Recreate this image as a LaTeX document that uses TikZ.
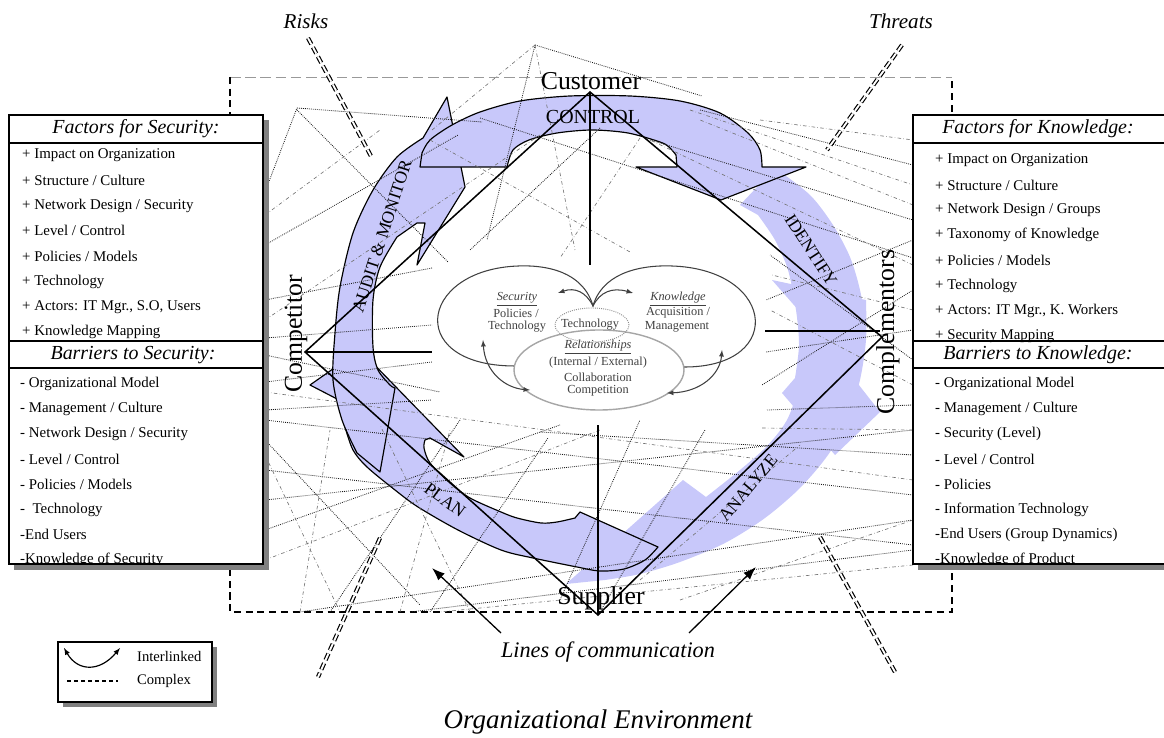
\documentclass[tikz,border=0pt]{standalone}
\usepackage{fontspec}
\setmainfont{Liberation Serif}
\usetikzlibrary{arrows,arrows.meta,positioning}
\tikzset{>=latex}
\definecolor{ringblue}{RGB}{200,200,250}
\definecolor{shadowgray}{RGB}{128,128,128}

\newcommand{\itemfont}{\fontsize{12.7}{14}\selectfont}
\newcommand{\headfont}{\fontsize{17}{19}\selectfont\itshape}
\newcommand{\rolefont}{\fontsize{22}{24}\selectfont}
\newcommand{\ringfont}{\fontsize{15}{16}\selectfont}
\newcommand{\vennfont}{\fontsize{10.5}{12}\selectfont}

\begin{document}
\begin{tikzpicture}[x=0.03cm,y=-0.03cm,
  ring/.style={fill=ringblue, draw=black, line width=1pt, line join=round},
  ringlight/.style={fill=ringblue},
  web/.style={densely dotted, line width=0.7pt, black!90},
  webgray/.style={dash dot, line width=0.55pt, black!55},
  complex/.style={double=white, double distance=1.6pt, line width=1pt, dash pattern=on 6pt off 3pt},
  listitem/.style={anchor=west, inner sep=0pt, font=\itemfont},
  listhead/.style={inner sep=0pt, font=\headfont},
  role/.style={inner sep=0pt, font=\rolefont},
  stage/.style={inner sep=0pt, font=\ringfont},
  venn/.style={inner sep=0pt, font=\vennfont, text=black!75},
  commarrow/.style={-{Latex[length=11pt,width=8pt]}, line width=1.1pt}]
\useasboundingbox (0,0) rectangle (1164,738);

% organizational boundary
\draw[black!40, dash pattern=on 9pt off 4pt, line width=0.6pt] (230,77) -- (952,77);
\draw[dash pattern=on 6pt off 4pt, line width=1pt] (230,77) -- (230,612) -- (952,612) -- (952,77);

% process cycle
\fill[ringlight] (740,205) -- plot[smooth] coordinates {(775,168) (810,195) (833,225) (850,257) (860,290) (865,323) (862,355) (855,380)}
  -- (880,412) -- (835,455) -- (782,393)
  -- plot[smooth] coordinates {(795,378) (799,345) (796,310) (788,270) (775,240) (758,215)} -- cycle;
\fill[ringlight] (772,280) -- plot[smooth] coordinates {(866,300) (866,340) (860,380) (848,420) (828,455) (800,488) (765,518) (725,543) (680,562) (640,574) (605,580)}
  -- (566,584) -- (683,480)
  -- plot[smooth] coordinates {(706,497) (740,470) (768,445) (788,418) (800,380) (803,340) (800,312)} -- cycle;
\filldraw[ring] (339,400) -- plot[smooth] coordinates {(345,427) (353,450) (367,467) (395,490) (418,507) (458,530) (501,550) (533,558) (577,567) (600,571) (624,569) (645,560) (658,547)}
  -- (580,512)
  -- plot[smooth] coordinates {(575,518) (557,522) (541,523) (517,518) (501,512) (470,498) (450,483) (430,463) (424,448) (425,440)}
  -- (430,438) -- (464,457) -- (360,350) -- (310,385) -- cycle;
\filldraw[ring] (380,472) -- plot[smooth] coordinates {(357,453) (342,420) (333,380) (335,333) (340,287) (353,233) (373,190) (397,157) (423,138)}
  -- (447,97) -- (465,187) -- (417,265) -- (425,223) -- (417,223)
  -- plot[smooth] coordinates {(397,237) (380,267) (373,300) (373,347) (378,370) (390,385) (395,388)} -- cycle;
\filldraw[ring] (420,167) -- plot[smooth] coordinates {(422,153) (430,140) (452,125) (480,112) (520,101) (570,96) (630,96) (680,101) (720,113) (748,133) (760,150) (762,167)}
  -- (806,167) -- (721,200) -- (636,167) -- (677,167)
  -- plot[smooth] coordinates {(676,155) (669,147) (660,142) (628,133) (592,130) (557,133) (529,140) (513,150) (507,167)} -- cycle;

% lines of communication
\foreach \xa/\ya/\xb/\yb in {265/192/297/108, 297/108/482/122, 297/110/448/262, 265/245/458/135,
    265/300/432/268, 265/338/432/325, 265/355/440/392, 265/382/432/362, 265/410/432/400,
    265/440/420/605, 265/470/913/545, 265/500/913/430, 265/530/560/425, 535/45/487/240,
    535/45/702/96, 480/118/913/258, 600/128/470/250, 700/110/913/165, 650/140/913/220,
    913/240/766/300, 913/290/762/385, 913/330/766/352, 913/360/770/255, 913/405/767/410,
    913/455/540/432, 913/495/265/420, 913/520/300/612, 913/550/410/612, 330/612/460/420,
    430/612/548/438, 600/612/705/430, 560/600/640/420}
  \draw[web] (\xa,\ya) -- (\xb,\yb);
\foreach \xa/\ya/\xb/\yb in {265/215/380/130, 265/320/540/135, 535/45/575/250, 535/45/432/130,
    430/140/630/252, 640/138/560/258, 690/110/913/185, 760/120/913/140, 913/205/700/120,
    913/265/650/140, 913/310/772/275, 913/385/770/310, 913/430/760/428, 913/480/265/392,
    913/565/440/612, 265/455/340/612, 265/560/600/430, 300/612/330/430, 400/612/450/430,
    470/612/380/425, 640/580/800/445, 680/600/913/520}
  \draw[webgray] (\xa,\ya) -- (\xb,\yb);

% diamond
\coordinate (cust) at (590,92);
\coordinate (comp) at (305,352);
\coordinate (supp) at (598,615);
\coordinate (cmpl) at (882,337);
\draw[line width=1.3pt, line join=miter] (cust) -- (cmpl) -- (supp) -- (comp) -- cycle;
\draw[line width=1pt] (cust) -- (590,265);
\draw[line width=1pt] (comp) -- (432,352);
\draw[line width=1pt] (765,331) -- (880,331);
\draw[line width=1pt] (supp) -- (598,425);

% venn
\draw[black!75, line width=0.9pt, ->] (515,366) .. controls (400,366) and (420,262) .. (530,266)
  .. controls (572,268) and (588,288) .. (593,306) .. controls (600,292) and (612,287) .. (633,293);
\draw[black!75, line width=0.9pt, ->] (683,367) .. controls (790,368) and (775,262) .. (660,266)
  .. controls (615,268) and (598,288) .. (593,306) .. controls (586,292) and (575,287) .. (558,293);
\draw[black!35, line width=1.2pt, fill=white] (599,370) ellipse [x radius=2.55cm, y radius=1.2cm];
\draw[black!45, densely dotted, line width=0.8pt] (592,325) ellipse [x radius=1.11cm, y radius=0.51cm];
\draw[<->, black!75, line width=0.9pt] (483,340) .. controls (485,372) and (505,388) .. (530,390);
\draw[<->, black!75, line width=0.9pt] (667,393) .. controls (700,392) and (720,375) .. (722,350);
\node[venn] (vsec) at (517,299) {\underline{\textit{Security}}};
\node[venn] (vsecb) at (516,313) {Policies /};
\node[venn] (vsecc) at (517,327) {Technology};
\node[venn] (vtech) at (590,325) {Technology};
\node[venn] (vknow) at (678,299) {\underline{\textit{Knowledge}}};
\node[venn] (vknowb) at (678,313) {Acquisition /};
\node[venn] (vknowc) at (677,327) {Management};
\node[venn] (vrel) at (598,347) {\underline{\textit{Relationships}}};
\node[venn] (vrelb) at (598,363) {(Internal / External)};
\node[venn] (vrelc) at (598,377) {Collaboration};
\node[venn] (vreld) at (598,391) {Competition};

% left lists
\fill[shadowgray] (14,120) rectangle (269,570);
\fill[white] (9,115) rectangle (263,564);
\begin{scope}
  \clip (9,115) rectangle (263,564);
  \node[listhead] (fsec) at (136,129) {Factors for Security:};
  \foreach \t [count=\i from 0] in {{+ Impact on Organization}, {+ Structure / Culture},
      {+ Network Design / Security}, {+ Level / Control}, {+ Policies / Models}, {+ Technology},
      {+ Actors: IT Mgr., S.O, Users}, {+ Knowledge Mapping}}
    \node[listitem] (fs\i) at ({22},{155+25.3*\i}) {\t};
  \node[listhead] (bsec) at (133,355) {Barriers to Security:};
  \foreach \t [count=\i from 0] in {{- Organizational Model}, {- Management / Culture},
      {- Network Design / Security}, {- Level / Control}, {- Policies / Models}, {-\ \ Technology},
      {-End Users}, {-Knowledge of Security}}
    \node[listitem] (bs\i) at ({20},{384+25.1*\i}) {\t};
\end{scope}
\draw[line width=1.5pt] (9,115) rectangle (263,564);
\draw[line width=1.5pt] (9,143) -- (263,143) (9,341) -- (263,341) (9,368) -- (263,368);

% right lists
\fill[shadowgray] (918,120) rectangle (1170,570);
\fill[white] (913,115) rectangle (1166,564);
\begin{scope}
  \clip (913,115) rectangle (1166,564);
  \node[listhead] (fknow) at (1038,129) {Factors for Knowledge:};
  \foreach \t [count=\i from 0] in {{+ Impact on Organization}, {+ Structure / Culture},
      {+ Network Design / Groups}, {+ Taxonomy of Knowledge}, {+ Policies / Models}, {+ Technology},
      {+ Actors: IT Mgr., K. Workers}, {+ Security Mapping}}
    \node[listitem] (fk\i) at ({935},{160+25.1*\i}) {\t};
  \node[listhead] (bknow) at (1038,355) {Barriers to Knowledge:};
  \foreach \t [count=\i from 0] in {{- Organizational Model}, {- Management / Culture},
      {- Security (Level)}, {- Level / Control}, {- Policies}, {- Information Technology},
      {-End Users (Group Dynamics)}, {-Knowledge of Product}}
    \node[listitem] (bk\i) at ({935},{384+25.1*\i}) {\t};
\end{scope}
\draw[line width=1.5pt] (913,115) rectangle (1166,564);
\draw[line width=1.5pt] (913,143) -- (1166,143) (913,341) -- (1166,341) (913,368) -- (1166,368);

% labels
\node[role] (customer) at (591,81) {Customer};
\node[role] (supplier) at (601,598) {Supplier};
\node[role, rotate=90] (competitor) at (296,334) {Competitor};
\node[role, rotate=90] (complementors) at (888,332) {Complementors};
\node[stage, font=\fontsize{17}{18}\selectfont] (control) at (593,117) {CONTROL};
\node[stage, rotate=72] (audit) at (382,236) {AUDIT \& MONITOR};
\node[stage, rotate=-57] (identify) at (811,250) {IDENTIFY};
\node[stage, rotate=50] (analyze) at (748,488) {ANALYZE};
\node[stage, rotate=-36] (plan) at (445,500) {PLAN};

% risks and threats
\draw[complex] (308,38) -- (372,158);
\draw[complex] (902,45) -- (827,150);
\draw[complex] (380,538) -- (318,677);
\draw[complex] (820,537) -- (895,672);
\node[font=\fontsize{18}{20}\selectfont\itshape] (risks) at (306,21) {Risks};
\node[font=\fontsize{18}{20}\selectfont\itshape] (threats) at (901,21) {Threats};

% communication pointers
\node[font=\fontsize{19}{22}\selectfont\itshape] (lcom) at (608,652) {Lines of communication};
\coordinate (lcsa) at (501,633);
\coordinate (lcea) at (432,568);
\coordinate (lcsb) at (689,633);
\coordinate (lceb) at (756,567);
\draw[commarrow] (lcsa) -- (lcea);
\draw[commarrow] (lcsb) -- (lceb);

% legend
\fill[shadowgray] (63,647) rectangle (217,707);
\draw[fill=white, line width=1.2pt] (58,642) rectangle (212,702);
\draw[<->, line width=1pt] (64,648) .. controls (78,672) and (100,672) .. (120,648);
\node[anchor=west, font=\fontsize{12.5}{13}\selectfont] (linked) at (133,656) {Interlinked};
\draw[dashed, line width=1pt] (67,681) -- (118,681);
\node[anchor=west, font=\fontsize{12.5}{13}\selectfont] (cplx) at (133,681) {Complex};

\node[font=\fontsize{23}{26}\selectfont\itshape] (orgenv) at (598,722) {Organizational Environment};
\end{tikzpicture}
\end{document}
